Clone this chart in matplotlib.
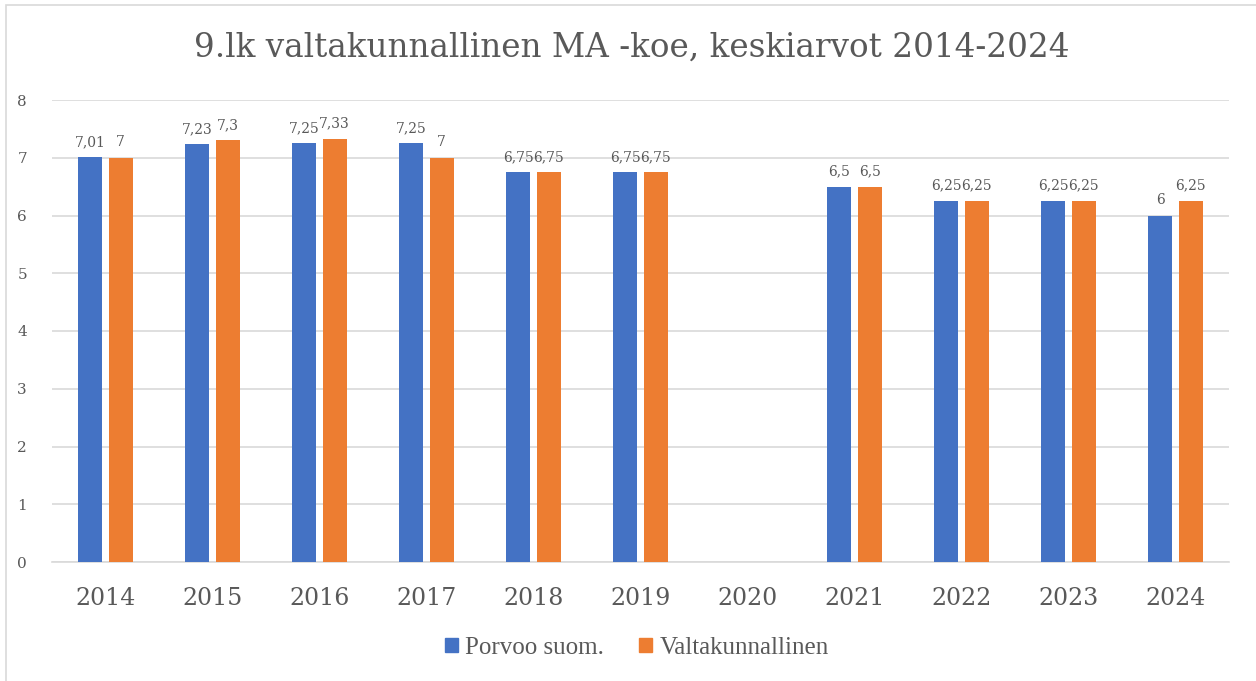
import matplotlib
matplotlib.use("Agg")
import matplotlib.pyplot as plt
import numpy as np
from matplotlib.patches import Rectangle

years = ["2014", "2015", "2016", "2017", "2018", "2019", "2020", "2021", "2022", "2023", "2024"]
porvoo = [7.01, 7.23, 7.25, 7.25, 6.75, 6.75, np.nan, 6.5, 6.25, 6.25, 6.0]
valtak = [7.0, 7.3, 7.33, 7.0, 6.75, 6.75, np.nan, 6.5, 6.25, 6.25, 6.25]
series_names = ["Porvoo suom.", "Valtakunnallinen"]
title = "9.lk valtakunnallinen MA -koe, keskiarvot 2014-2024"

BLUE = "#4472C4"
ORANGE = "#ED7D31"
TXT = "#595959"
GRID = "#D9D9D9"
SERIF = ["DejaVu Serif"]

fig = plt.figure(figsize=(12.56, 6.81), dpi=100)
fig.patches.append(Rectangle((6 / 1256, -0.1), 1.2, 1 - 5 / 681 + 0.1, transform=fig.transFigure,
                             fill=False, edgecolor=GRID, linewidth=1.2))

ax = fig.add_axes([52 / 1256, 1 - 562 / 681, (1229 - 52) / 1256, (562 - 100) / 681])
x = np.arange(len(years))
w = 0.225
off = 0.142
b1 = ax.bar(x - off, porvoo, w, color=BLUE, zorder=3)
b2 = ax.bar(x + off, valtak, w, color=ORANGE, zorder=3)

def fmt(v):
    return ("{:g}".format(v)).replace(".", ",")

for bars, vals in ((b1, porvoo), (b2, valtak)):
    for rect, v in zip(bars, vals):
        if np.isnan(v):
            continue
        ax.annotate(fmt(v), (rect.get_x() + rect.get_width() / 2, v), xytext=(0, 6),
                    textcoords="offset points", ha="center", va="bottom",
                    fontsize=10, color=TXT, family=SERIF)

ax.set_xlim(-0.5, len(years) - 0.5)
ax.set_ylim(0, 8)
ax.set_yticks(range(0, 9))
ax.set_xticks(x)
ax.set_xticklabels(years)
ax.yaxis.grid(True, color=GRID, linewidth=1.2, zorder=0)
ax.set_axisbelow(True)
for s in ["top", "right", "left"]:
    ax.spines[s].set_visible(False)
ax.spines["bottom"].set_color(GRID)
ax.spines["bottom"].set_linewidth(1.2)
ax.tick_params(axis="both", length=0, colors=TXT)
ax.tick_params(axis="x", labelsize=17, pad=18)
ax.tick_params(axis="y", labelsize=11, pad=18)
for lab in ax.get_xticklabels() + ax.get_yticklabels():
    lab.set_family(SERIF)

fig.text(632 / 1256, 1 - 48 / 681, title, ha="center", va="center", fontsize=23.5,
         color=TXT, family=SERIF)

handles = [Rectangle((0, 0), 1, 1, color=BLUE), Rectangle((0, 0), 1, 1, color=ORANGE)]
leg = fig.legend(handles, series_names, loc="center", bbox_to_anchor=(637 / 1256, 1 - 648 / 681),
                 ncol=2, frameon=False, handlelength=0.5, handleheight=0.5, handletextpad=0.3,
                 columnspacing=1.4, prop={"family": "Liberation Serif", "size": 18})
for t in leg.get_texts():
    t.set_color(TXT)

fig.savefig("out.png", dpi=100)
